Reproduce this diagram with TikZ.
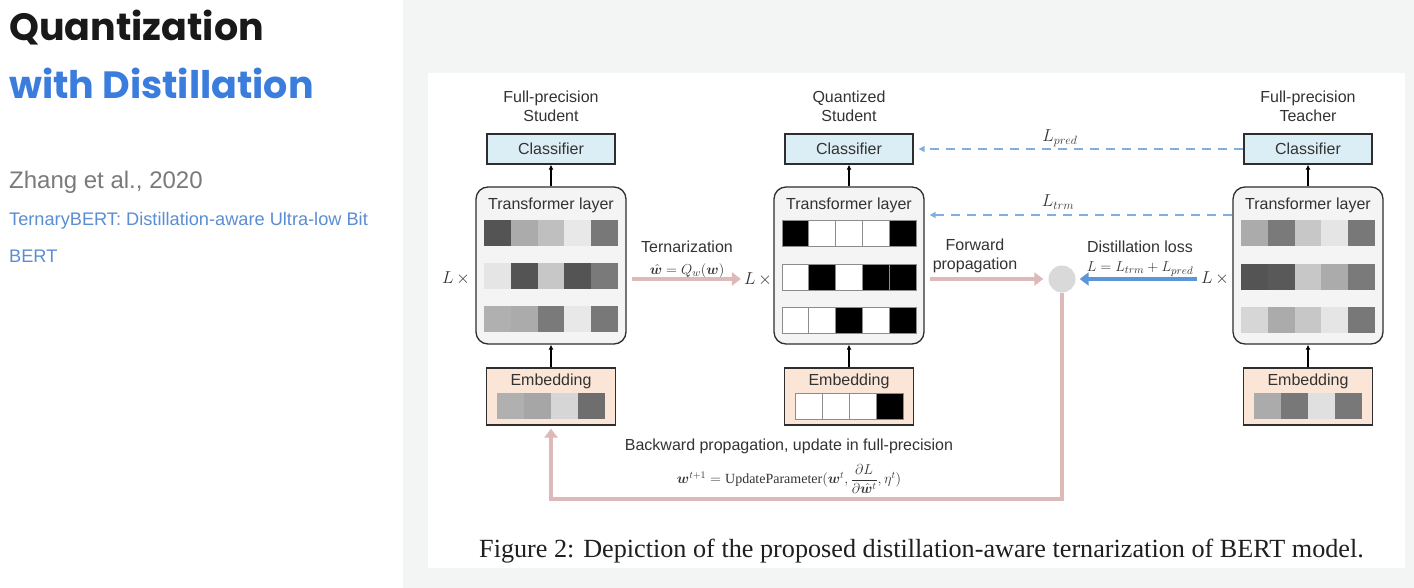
\documentclass[tikz,border=0pt]{standalone}
\usepackage{fontspec}
\usepackage{bm}
\usepackage{amsmath}
\setmainfont{Liberation Sans}
\newfontfamily\popfont{Poppins}
\newfontfamily\serfont{Liberation Serif}
\usetikzlibrary{arrows.meta,calc}
\definecolor{clsblue}{HTML}{DCEEF5}
\definecolor{embpeach}{HTML}{FBE5D6}
\definecolor{trgray}{HTML}{F4F4F4}
\definecolor{pinkarrow}{HTML}{DDB9B9}
\definecolor{bluedash}{HTML}{7FAEDF}
\definecolor{bluesolid}{HTML}{5B96D6}
\definecolor{titleblue}{HTML}{3B7DDD}
\definecolor{linkblue}{HTML}{5B8DD3}
\definecolor{panelgray}{HTML}{F3F4F4}
\definecolor{figtext}{HTML}{333333}
\definecolor{boxline}{HTML}{2E2E2E}
\newcommand\cellrow[4]{%
  \foreach \g [count=\i from 0] in {#4} {\fill[black!\g] ({#1+\i*#3},#2) rectangle ++(#3,26);}}
\newcommand\bincellrow[4]{%
  \foreach \g [count=\i from 0] in {#4} {\filldraw[fill=black!\g, draw=black!45, line width=0.9pt] ({#1+\i*#3},#2) rectangle ++(#3,26);}}
\tikzset{
  figtxt/.style={text=figtext, font=\fontsize{16}{19}\selectfont, inner sep=0pt, align=center},
  mathtxt/.style={text=figtext, font=\fontsize{15}{18}\selectfont, inner sep=0pt},
  clsbox/.style={draw=boxline, line width=1.3pt, fill=clsblue, minimum width=128, minimum height=30, inner sep=0pt, text=figtext, font=\fontsize{16}{19}\selectfont},
  trbox/.style={draw=boxline, line width=1.3pt, fill=trgray, rounded corners=12pt, minimum width=150, minimum height=157, inner sep=0pt},
  embbox/.style={draw=boxline, line width=1.3pt, fill=embpeach, minimum width=129, minimum height=57, inner sep=0pt},
  smallarrow/.style={draw=black, line width=1.1pt, -{Latex[length=5pt,width=5pt]}},
  pinkarr/.style={draw=pinkarrow, line width=4.5pt, -{Triangle[length=9pt,width=13pt]}},
  bluearr/.style={draw=bluesolid, line width=4.5pt, -{Triangle[length=9pt,width=13pt]}},
  dasharr/.style={draw=bluedash, line width=1.6pt, dash pattern=on 9pt off 7pt, -{Triangle[length=6pt,width=6pt]}},
  lossdot/.style={circle, fill=black!15, minimum size=27, inner sep=0pt},
  titletxt/.style={anchor=base west, inner sep=0pt, font=\popfont\bfseries\fontsize{38}{44}\selectfont},
}
\begin{document}
\begin{tikzpicture}[x=1pt,y=-1pt]
\useasboundingbox (0,0) rectangle (1414,588);
% backgrounds
\fill[white] (0,0) rectangle (1414,588);
\fill[panelgray] (403,0) rectangle (1414,588);
\fill[white] (428,73) rectangle (1405,568);
% left panel text
\node[titletxt, text=black!90] (t1) at (9,41) {Quantization};
\node[titletxt, text=titleblue] (t2) at (9,99) {with Distillation};
\node[anchor=base west, inner sep=0pt, font=\fontsize{24}{28}\selectfont, text=black!52] (auth) at (9,189) {Zhang et al., 2020};
\node[anchor=base west, inner sep=0pt, font=\fontsize{18.2}{20}\selectfont, text=linkblue] (ref1) at (9,226) {TernaryBERT: Distillation-aware Ultra-low Bit};
\node[anchor=base west, inner sep=0pt, font=\fontsize{18.2}{20}\selectfont, text=linkblue] (ref2) at (9,262) {BERT};
% ---------- left column: full-precision student
\node[figtxt] (sttl) at (551,106) {Full-precision\\Student};
\node[clsbox] (scls) at (551,149) {Classifier};
\node[trbox] (str) at (551,265.5) {};
\node[figtxt] (strl) at (551,205) {Transformer layer};
\cellrow{551-67}{220}{26.8}{67,33,25,9,53}
\cellrow{551-67}{263}{26.8}{10,67,22,67,52}
\cellrow{551-67}{306}{26.8}{31,33,52,9,53}
\node[embbox] (semb) at (551,396.5) {};
\node[figtxt] (sembl) at (551,381) {Embedding};
\cellrow{551-54}{393}{27}{31,35,16,57}
\node[mathtxt, font=\fontsize{17}{20}\selectfont] (slx) at (456,278) {$L\,\times$};
\draw[smallarrow] (str.north) -- (scls.south);
\draw[smallarrow] (semb.north) -- (str.south);
% ---------- middle column: quantized student
\node[figtxt] (qttl) at (849,106) {Quantized\\Student};
\node[clsbox] (qcls) at (849,149) {Classifier};
\node[trbox] (qtr) at (849,265.5) {};
\node[figtxt] (qtrl) at (849,205) {Transformer layer};
\bincellrow{849-67}{220}{26.8}{100,0,0,0,100}
\bincellrow{849-67}{264}{26.8}{0,100,0,100,100}
\bincellrow{849-67}{307}{26.8}{0,0,100,0,100}
\node[embbox] (qemb) at (849,396.5) {};
\node[figtxt] (qembl) at (849,381) {Embedding};
\bincellrow{849-54}{393}{27}{0,0,0,100}
\node[mathtxt, font=\fontsize{17}{20}\selectfont] (qlx) at (758,279) {$L\,\times$};
\draw[smallarrow] (qtr.north) -- (qcls.south);
\draw[smallarrow] (qemb.north) -- (qtr.south);
% ---------- right column: teacher
\node[figtxt] (tttl) at (1308,106) {Full-precision\\Teacher};
\node[clsbox] (tcls) at (1308,149) {Classifier};
\node[trbox] (ttr) at (1308,265.5) {};
\node[figtxt] (ttrl) at (1308,205) {Transformer layer};
\cellrow{1308-67}{220}{26.8}{33,52,22,10,53}
\cellrow{1308-67}{264}{26.8}{67,65,22,33,52}
\cellrow{1308-67}{307}{26.8}{16,33,22,10,53}
\node[embbox] (temb) at (1308,396.5) {};
\node[figtxt] (tembl) at (1308,381) {Embedding};
\cellrow{1308-54}{393}{27}{33,53,12,53}
\node[mathtxt, font=\fontsize{17}{20}\selectfont] (tlx) at (1215,278) {$L\,\times$};
\draw[smallarrow] (ttr.north) -- (tcls.south);
\draw[smallarrow] (temb.north) -- (ttr.south);
% ---------- middle connectors
\node[lossdot] (loss) at (1062,279) {};
\node[figtxt] (ternl) at (687,247) {Ternarization};
\node[mathtxt] (ternf) at (687,271) {$\hat{\bm w} = Q_w(\bm w)$};
\draw[pinkarr, shorten <=5pt, shorten >=3pt] (str.east |- qlx) -- (qlx.west);
\node[figtxt] (fwdl) at (975,256) {Forward\\propagation};
\draw[pinkarr, shorten <=5pt, shorten >=5pt] (qtr.east |- loss) -- (loss.west);
\node[figtxt] (distl) at (1140,247) {Distillation loss};
\node[mathtxt] (distf) at (1140,269) {$L = L_{trm} + L_{pred}$};
\draw[bluearr, shorten <=4pt, shorten >=4pt] (tlx.west |- loss) -- (loss.east);
\node[mathtxt, font=\fontsize{17}{20}\selectfont] (lpred) at (1060,138) {$L_{pred}$};
\node[mathtxt, font=\fontsize{17}{20}\selectfont] (ltrm) at (1058,202) {$L_{trm}$};
\coordinate (trmy) at (0,215);
\draw[dasharr, shorten >=5pt] (tcls.west) -- (qcls.east);
\draw[dasharr, shorten >=5pt] (ttr.west |- trmy) -- (qtr.east |- trmy);
% backward
\coordinate (backy) at (800,499);
\draw[pinkarr, shorten >=3pt] (loss.south) |- (backy) -| (semb.south);
\node[figtxt] (bwdl) at (789,446) {Backward propagation, update in full-precision};
\node[mathtxt, font=\fontsize{14}{17}\selectfont] (bwdf) at (789,479) {$\bm w^{t+1} = \mbox{\serfont UpdateParameter}(\bm w^t, \dfrac{\partial L}{\partial \hat{\bm w}^t}, \eta^t)$};
% caption
\node[anchor=base, inner sep=0pt, font=\serfont\fontsize{26.2}{30}\selectfont, text=black!88] (cap) at (921.5,557) {Figure 2: Depiction of the proposed distillation-aware ternarization of BERT model.};
\end{tikzpicture}
\end{document}
